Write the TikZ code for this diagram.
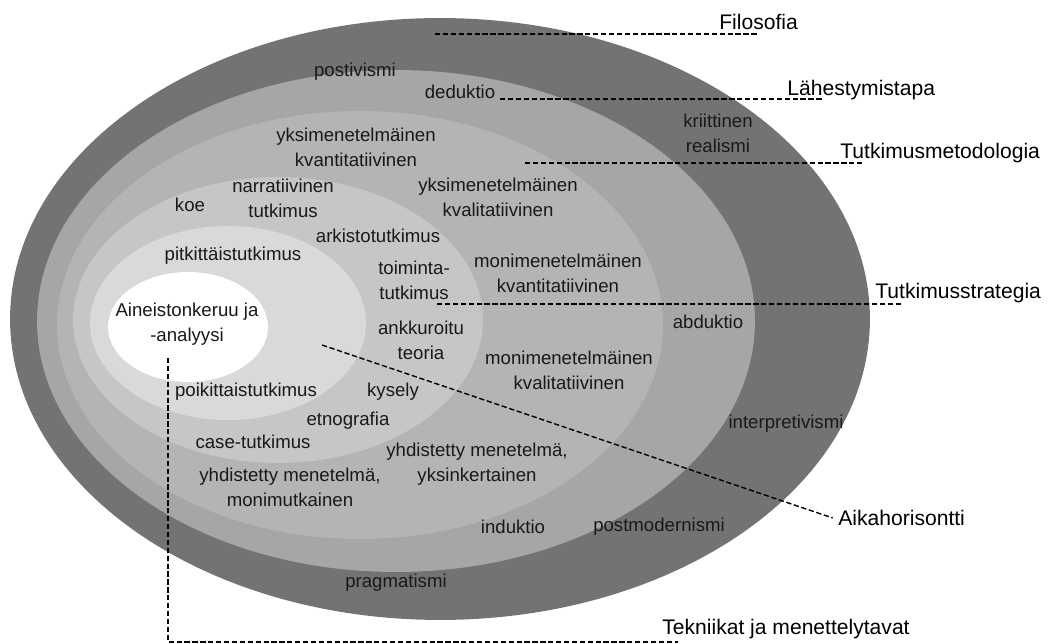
\documentclass[tikz,border=0pt]{standalone}
\usepackage{fontspec}
\setmainfont{Liberation Sans}
\definecolor{kerros1}{gray}{0.45}
\definecolor{kerros2}{gray}{0.65}
\definecolor{kerros3}{gray}{0.705}
\definecolor{kerros4}{gray}{0.775}
\definecolor{kerros5}{gray}{0.85}
\tikzset{
  sisa/.style={font=\fontsize{10.6}{14.2}\selectfont, align=center, inner sep=0pt, text=black!90},
  otsake/.style={font=\fontsize{12}{14}\selectfont, inner sep=0pt, anchor=base west},
  katko/.style={dash pattern=on 3pt off 1.5pt, line width=0.8pt}
}
\begin{document}
\begin{tikzpicture}[x=0.02cm,y=-0.02cm]
  \useasboundingbox (0,0) rectangle (1051,644);
  %sipulin kerrokset
  \fill[kerros1] (440,319) ellipse [x radius=8.6cm, y radius=6.02cm];
  \fill[kerros2] (396,321) ellipse [x radius=7.18cm, y radius=5.02cm];
  \fill[kerros3] (360,325) ellipse [x radius=6.06cm, y radius=4.28cm];
  \fill[kerros4] (278,320) ellipse [x radius=4.1cm, y radius=2.86cm];
  \fill[kerros5] (228,323) ellipse [x radius=2.76cm, y radius=1.94cm];
  \fill[white] (188,327) ellipse [x radius=1.6cm, y radius=1.1cm];

  %tasot
  \coordinate (filo-a) at (435,34);  \coordinate (filo-b) at (758,34);
  \coordinate (lahe-a) at (500,99);  \coordinate (lahe-b) at (823,99);
  \coordinate (meto-a) at (525,163); \coordinate (meto-b) at (862,163);
  \coordinate (stra-a) at (437,304); \coordinate (stra-b) at (903,304);
  \coordinate (aika-a) at (322,345);
  \coordinate (tekn-a) at (168,358); \coordinate (tekn-b) at (678,642);
  \node[otsake] (filo) at (719,30) {Filosofia};
  \node[otsake] (lahe) at (787,96) {Lähestymistapa};
  \node[otsake] (meto) at (840,159) {Tutkimusmetodologia};
  \node[otsake] (stra) at (875,299) {Tutkimusstrategia};
  \node[otsake, anchor=west] (aika) at (838,518) {Aikahorisontti};
  \node[otsake] (tekn) at (662,634) {Tekniikat ja menettelytavat};
  \draw[katko] (filo-a) -- (filo-b);
  \draw[katko] (lahe-a) -- (lahe-b);
  \draw[katko] (meto-a) -- (meto-b);
  \draw[katko] (stra-a) -- (stra-b);
  \draw[katko] (aika-a) -- ([xshift=-3pt]aika.west);
  \draw[katko] (tekn-a) |- (tekn-b);

  %valinnat
  \node[sisa] (postiv) at (355,72) {postivismi};
  \node[sisa] (dedukt) at (460,92) {deduktio};
  \node[sisa] (kriit) at (718,133) {kriittinen\\realismi};
  \node[sisa] (ykskvant) at (356,147) {yksimenetelmäinen\\kvantitatiivinen};
  \node[sisa] (koe) at (190,205) {koe};
  \node[sisa] (narr) at (283,198) {narratiivinen\\tutkimus};
  \node[sisa] (ykskval) at (498,197) {yksimenetelmäinen\\kvalitatiivinen};
  \node[sisa] (arkisto) at (378,236) {arkistotutkimus};
  \node[sisa] (pitk) at (233,256) {pitkittäistutkimus};
  \node[sisa] (toim) at (414,280) {toiminta-\\tutkimus};
  \node[sisa] (monikvant) at (558,273) {monimenetelmäinen\\kvantitatiivinen};
  \node[sisa] (ydin) at (187,324) {Aineistonkeruu ja\\-analyysi};
  \node[sisa] (abd) at (708,322) {abduktio};
  \node[sisa] (ankk) at (421,340) {ankkuroitu\\teoria};
  \node[sisa] (monikval) at (569,370) {monimenetelmäinen\\kvalitatiivinen};
  \node[sisa] (poik) at (246,392) {poikittaistutkimus};
  \node[sisa] (kysely) at (393,392) {kysely};
  \node[sisa] (etno) at (348,421) {etnografia};
  \node[sisa] (case) at (253,442) {case-tutkimus};
  \node[sisa] (yhdyks) at (477,464) {yhdistetty menetelmä,\\yksinkertainen};
  \node[sisa] (yhdmon) at (290,487) {yhdistetty menetelmä,\\monimutkainen};
  \node[sisa] (interp) at (786,424) {interpretivismi};
  \node[sisa] (induk) at (513,527) {induktio};
  \node[sisa] (postm) at (659,527) {postmodernismi};
  \node[sisa] (pragm) at (396,583) {pragmatismi};
\end{tikzpicture}
\end{document}
